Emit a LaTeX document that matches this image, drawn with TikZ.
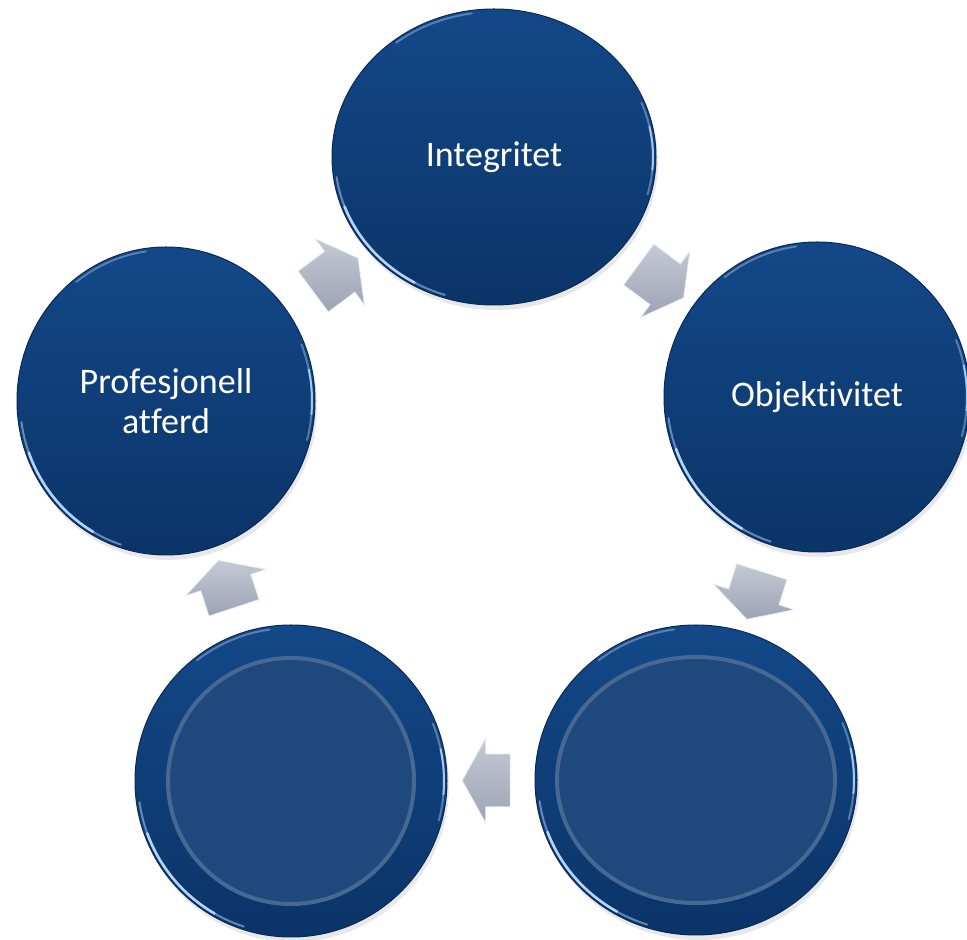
\documentclass[tikz,border=0pt]{standalone}
\usepackage{fontspec}
\setmainfont{Carlito}[Ligatures={NoCommon,NoContextual}]
\usetikzlibrary{shapes.geometric,shapes.arrows,calc,shadows}

\definecolor{discTop}{RGB}{19,72,136}
\definecolor{discBot}{RGB}{11,52,104}
\definecolor{discEdge}{RGB}{9,42,88}
\definecolor{innerFill}{RGB}{31,73,125}
\definecolor{innerLine}{RGB}{72,104,148}
\definecolor{rimLight}{RGB}{185,218,252}
\definecolor{arrTop}{RGB}{196,201,213}
\definecolor{arrBot}{RGB}{156,163,179}
\definecolor{arrEdge}{RGB}{232,237,246}

% #1 node, #2 x radius, #3 y radius (already inset)
\newcommand\rimglow[3]{%
  \draw[rim,opacity=0.5] ($(#1.center)+(188:#2 and #3)$) arc[start angle=188,end angle=252,x radius=#2,y radius=#3];
  \draw[rim,line width=2.6pt] ($(#1.center)+(200:#2 and #3)$) arc[start angle=200,end angle=240,x radius=#2,y radius=#3];
  \draw[rim,opacity=0.4] ($(#1.center)+(-15:#2 and #3)$) arc[start angle=-15,end angle=22,x radius=#2,y radius=#3];
  \draw[rim,opacity=0.8] ($(#1.center)+(-5:#2 and #3)$) arc[start angle=-5,end angle=12,x radius=#2,y radius=#3];
  \draw[rim,opacity=0.4] ($(#1.center)+(98:#2 and #3)$) arc[start angle=98,end angle=128,x radius=#2,y radius=#3];
}

\begin{document}
\begin{tikzpicture}[x=1pt,y=1pt,
  disc/.style={ellipse, inner sep=0pt, top color=discTop, bottom color=discBot,
    draw=discEdge, line width=1pt, text=white, align=center,
    font=\fontsize{36}{40}\selectfont,
    drop shadow={opacity=0.18, shadow xshift=2pt, shadow yshift=-5pt}},
  innerdisc/.style={ellipse, inner sep=0pt, fill=innerFill, draw=innerLine, line width=4pt},
  cyclearrow/.style={single arrow, inner xsep=0pt, inner ysep=25pt, single arrow tip angle=122,
    single arrow head extend=16pt, minimum height=56pt,
    top color=arrTop, bottom color=arrBot, draw=arrEdge, line width=0.8pt},
  rim/.style={draw=rimLight, line width=2pt, line cap=round, opacity=0.95}
]
\useasboundingbox (0,0) rectangle (967,940);

% discs
\node[disc, minimum width=324pt, minimum height=296pt] (I)  at (494,783) {Integritet};
\node[disc, minimum width=306pt, minimum height=310pt] (O)  at (817,543) {Objektivitet};
\node[disc, minimum width=298pt, minimum height=308pt] (P)  at (166,539) {Profesjonell\\atferd};
\node[disc, minimum width=322pt, minimum height=310pt] (BR) at (696,160) {};
\node[disc, minimum width=312pt, minimum height=312pt] (BL) at (291,159) {};

\node[innerdisc, minimum width=278pt, minimum height=246pt] (BRi) at (BR.center) {};
\node[innerdisc, minimum width=246pt, minimum height=246pt] (BLi) at (BL.center) {};

% rim highlights
\rimglow{I}{159}{145}
\rimglow{O}{150}{152}
\rimglow{P}{146}{151}
\rimglow{BR}{158}{152}
\rimglow{BL}{153}{153}

% arrows between discs
\node[cyclearrow, rotate=36.6]  (a1) at ($(P)!0.5!(I)$) {};
\node[cyclearrow, rotate=-36.6] (a2) at ($(I)!0.5!(O)$) {};
\node[cyclearrow, rotate=-107.5, minimum height=50pt, inner ysep=26pt] (a3) at ($(O)!0.5!(BR)$) {};
\node[cyclearrow, rotate=180, minimum height=48pt, inner ysep=26pt] (a4) at ($(BR)!0.5!(BL)$) {};
\node[cyclearrow, rotate=108.2, minimum height=50pt, inner ysep=26pt] (a5) at ($(BL)!0.5!(P)$) {};
\end{tikzpicture}
\end{document}
